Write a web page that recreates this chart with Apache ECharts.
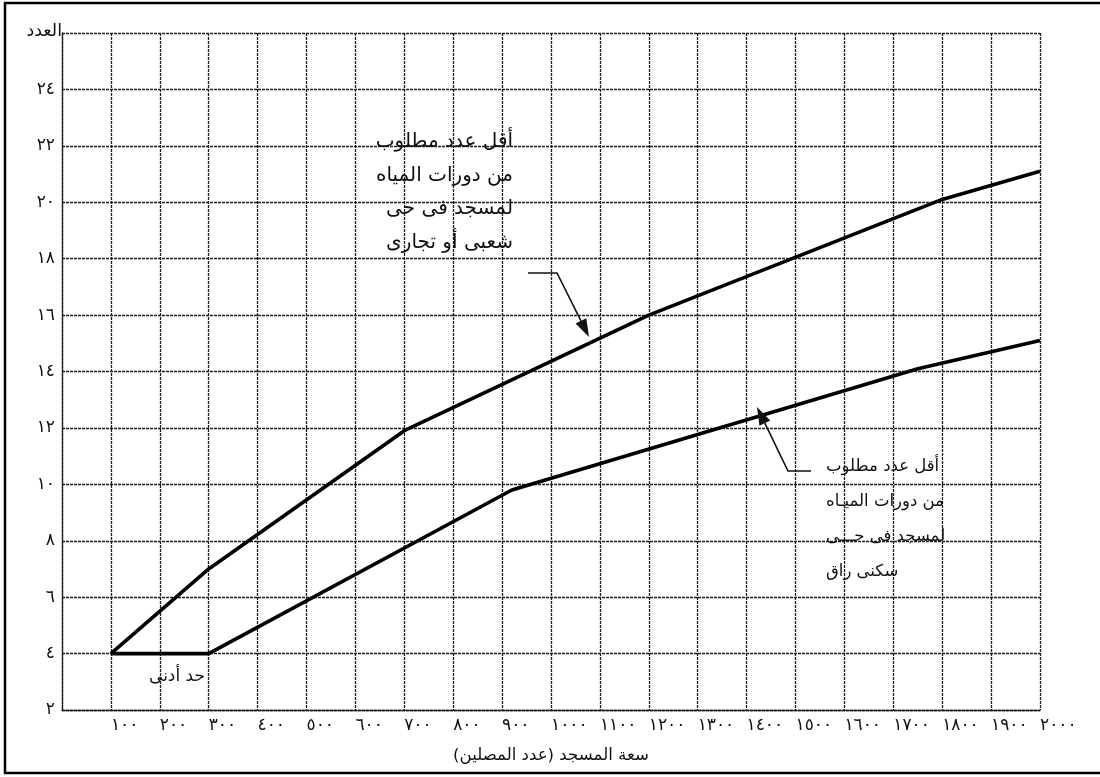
<!DOCTYPE html>
<html>
<head>
<meta charset="utf-8">
<script src="https://cdn.jsdelivr.net/npm/echarts@6/dist/echarts.min.js"></script>
<style>
html,body{margin:0;padding:0;background:#fff;overflow:hidden;}
#c{width:1100px;height:777px;}
</style>
</head>
<body>
<div id="c"></div>
<script>
// Data
const upperX = [100, 300, 700, 1200, 1800, 2000];
const upperY = [4, 7, 11.9, 16, 20.1, 21.1];
const lowerX = [100, 300, 920, 1750, 2000];
const lowerY = [4, 4, 9.8, 14.1, 15.1];
const xTicks = [100,200,300,400,500,600,700,800,900,1000,1100,1200,1300,1400,1500,1600,1700,1800,1900,2000];
const yTicks = [2,4,6,8,10,12,14,16,18,20,22,24];

const upperLabel = ['أقل عدد مطلوب', 'من دورات المياه', 'لمسجد فى حى', 'شعبى أو تجارى'];
const lowerLabel = ['أقل عدد مطلوب', 'من دورات الميـاه', 'لمسجد فى حـــى', 'سكنى راق'];
const minLabel = 'حد أدنى';
const xName = 'سعة المسجد (عدد المصلين)';
const yName = 'العدد';

const AR = '٠١٢٣٤٥٦٧٨٩';
const toAr = v => String(v).replace(/\d/g, d => AR[+d]);
const FONT = 'DejaVu Sans';

const zip = (xs, ys) => xs.map((x, i) => [x, ys[i]]);

const gridStyle = { color: '#1e1e1e', width: 1.3, type: [3, 1] };

const chart = echarts.init(document.getElementById('c'), null, { renderer: 'canvas' });

function arrow(pts, color) {
  const n = pts.length;
  const [x1, y1] = pts[n - 2], [x2, y2] = pts[n - 1];
  const ang = Math.atan2(y2 - y1, x2 - x1);
  const L = 18, W = 6;
  const bx = x2 - L * Math.cos(ang), by = y2 - L * Math.sin(ang);
  const px = -Math.sin(ang) * W, py = Math.cos(ang) * W;
  return [
    { type: 'polyline', shape: { points: pts.slice(0, n - 1).concat([[bx, by]]) }, style: { stroke: color, lineWidth: 1.6, fill: null }, z: 10 },
    { type: 'polygon', shape: { points: [[x2, y2], [bx + px, by + py], [bx - px, by - py]] }, style: { fill: color }, z: 10 }
  ];
}

function textBlock(lines, x, y0, dy, align, size) {
  return lines.map((t, i) => ({
    type: 'text', x: x, y: y0 + i * dy, z: 10,
    style: { text: t, fill: '#111', font: size + 'px "' + FONT + '"', align: align, verticalAlign: 'middle' }
  }));
}

const graphics = [
  { type: 'polyline', shape: { points: [[1100, 3], [5, 3], [5, 773], [1100, 773]] }, style: { stroke: '#000', lineWidth: 2.5, fill: null }, z: 20 }
]
  .concat(textBlock(upperLabel, 513, 142, 33.5, 'right', 20))
  .concat(textBlock(lowerLabel, 826, 467, 35, 'left', 16.5))
  .concat(textBlock([minLabel], 205, 677, 0, 'right', 17))
  .concat(arrow([[528, 273], [557, 273], [589, 337]], '#111'))
  .concat(arrow([[811, 471], [788, 471], [757, 407]], '#111'));

chart.setOption({
  backgroundColor: '#fff',
  animation: false,
  textStyle: { fontFamily: FONT },
  grid: { left: 62, right: 60, top: 33, bottom: 67, show: false },
  xAxis: {
    type: 'value', min: 0, max: 2000, interval: 100,
    name: xName, nameLocation: 'middle', nameGap: 37,
    nameTextStyle: { fontSize: 16.6, color: '#111', fontFamily: FONT },
    axisLine: { show: true, lineStyle: gridStyle },
    axisTick: { show: false },
    axisLabel: {
      margin: 7, fontSize: 17, color: '#111', fontFamily: FONT, align: 'left',
      formatter: v => xTicks.includes(v) ? toAr(v) : ''
    },
    splitLine: { show: true, lineStyle: gridStyle }
  },
  yAxis: {
    type: 'value', min: 2, max: 26, interval: 2,
    name: yName, nameLocation: 'end', nameGap: 2,
    nameTextStyle: { fontSize: 17.5, color: '#111', align: 'right', verticalAlign: 'middle', fontFamily: FONT },
    axisLine: { show: true, lineStyle: gridStyle },
    axisTick: { show: false },
    axisLabel: {
      margin: 7, fontSize: 17, color: '#111', fontFamily: FONT,
      formatter: v => yTicks.includes(v) ? toAr(v) : ''
    },
    splitLine: { show: true, lineStyle: gridStyle }
  },
  series: [
    {
      name: 'شعبى أو تجارى', type: 'line', data: zip(upperX, upperY),
      symbol: 'none', lineStyle: { color: '#000', width: 3.6 }, z: 5
    },
    {
      name: 'سكنى راق', type: 'line', data: zip(lowerX, lowerY),
      symbol: 'none', lineStyle: { color: '#000', width: 3.6 }, z: 5
    }
  ],
  graphic: graphics
});
</script>
</body>
</html>
